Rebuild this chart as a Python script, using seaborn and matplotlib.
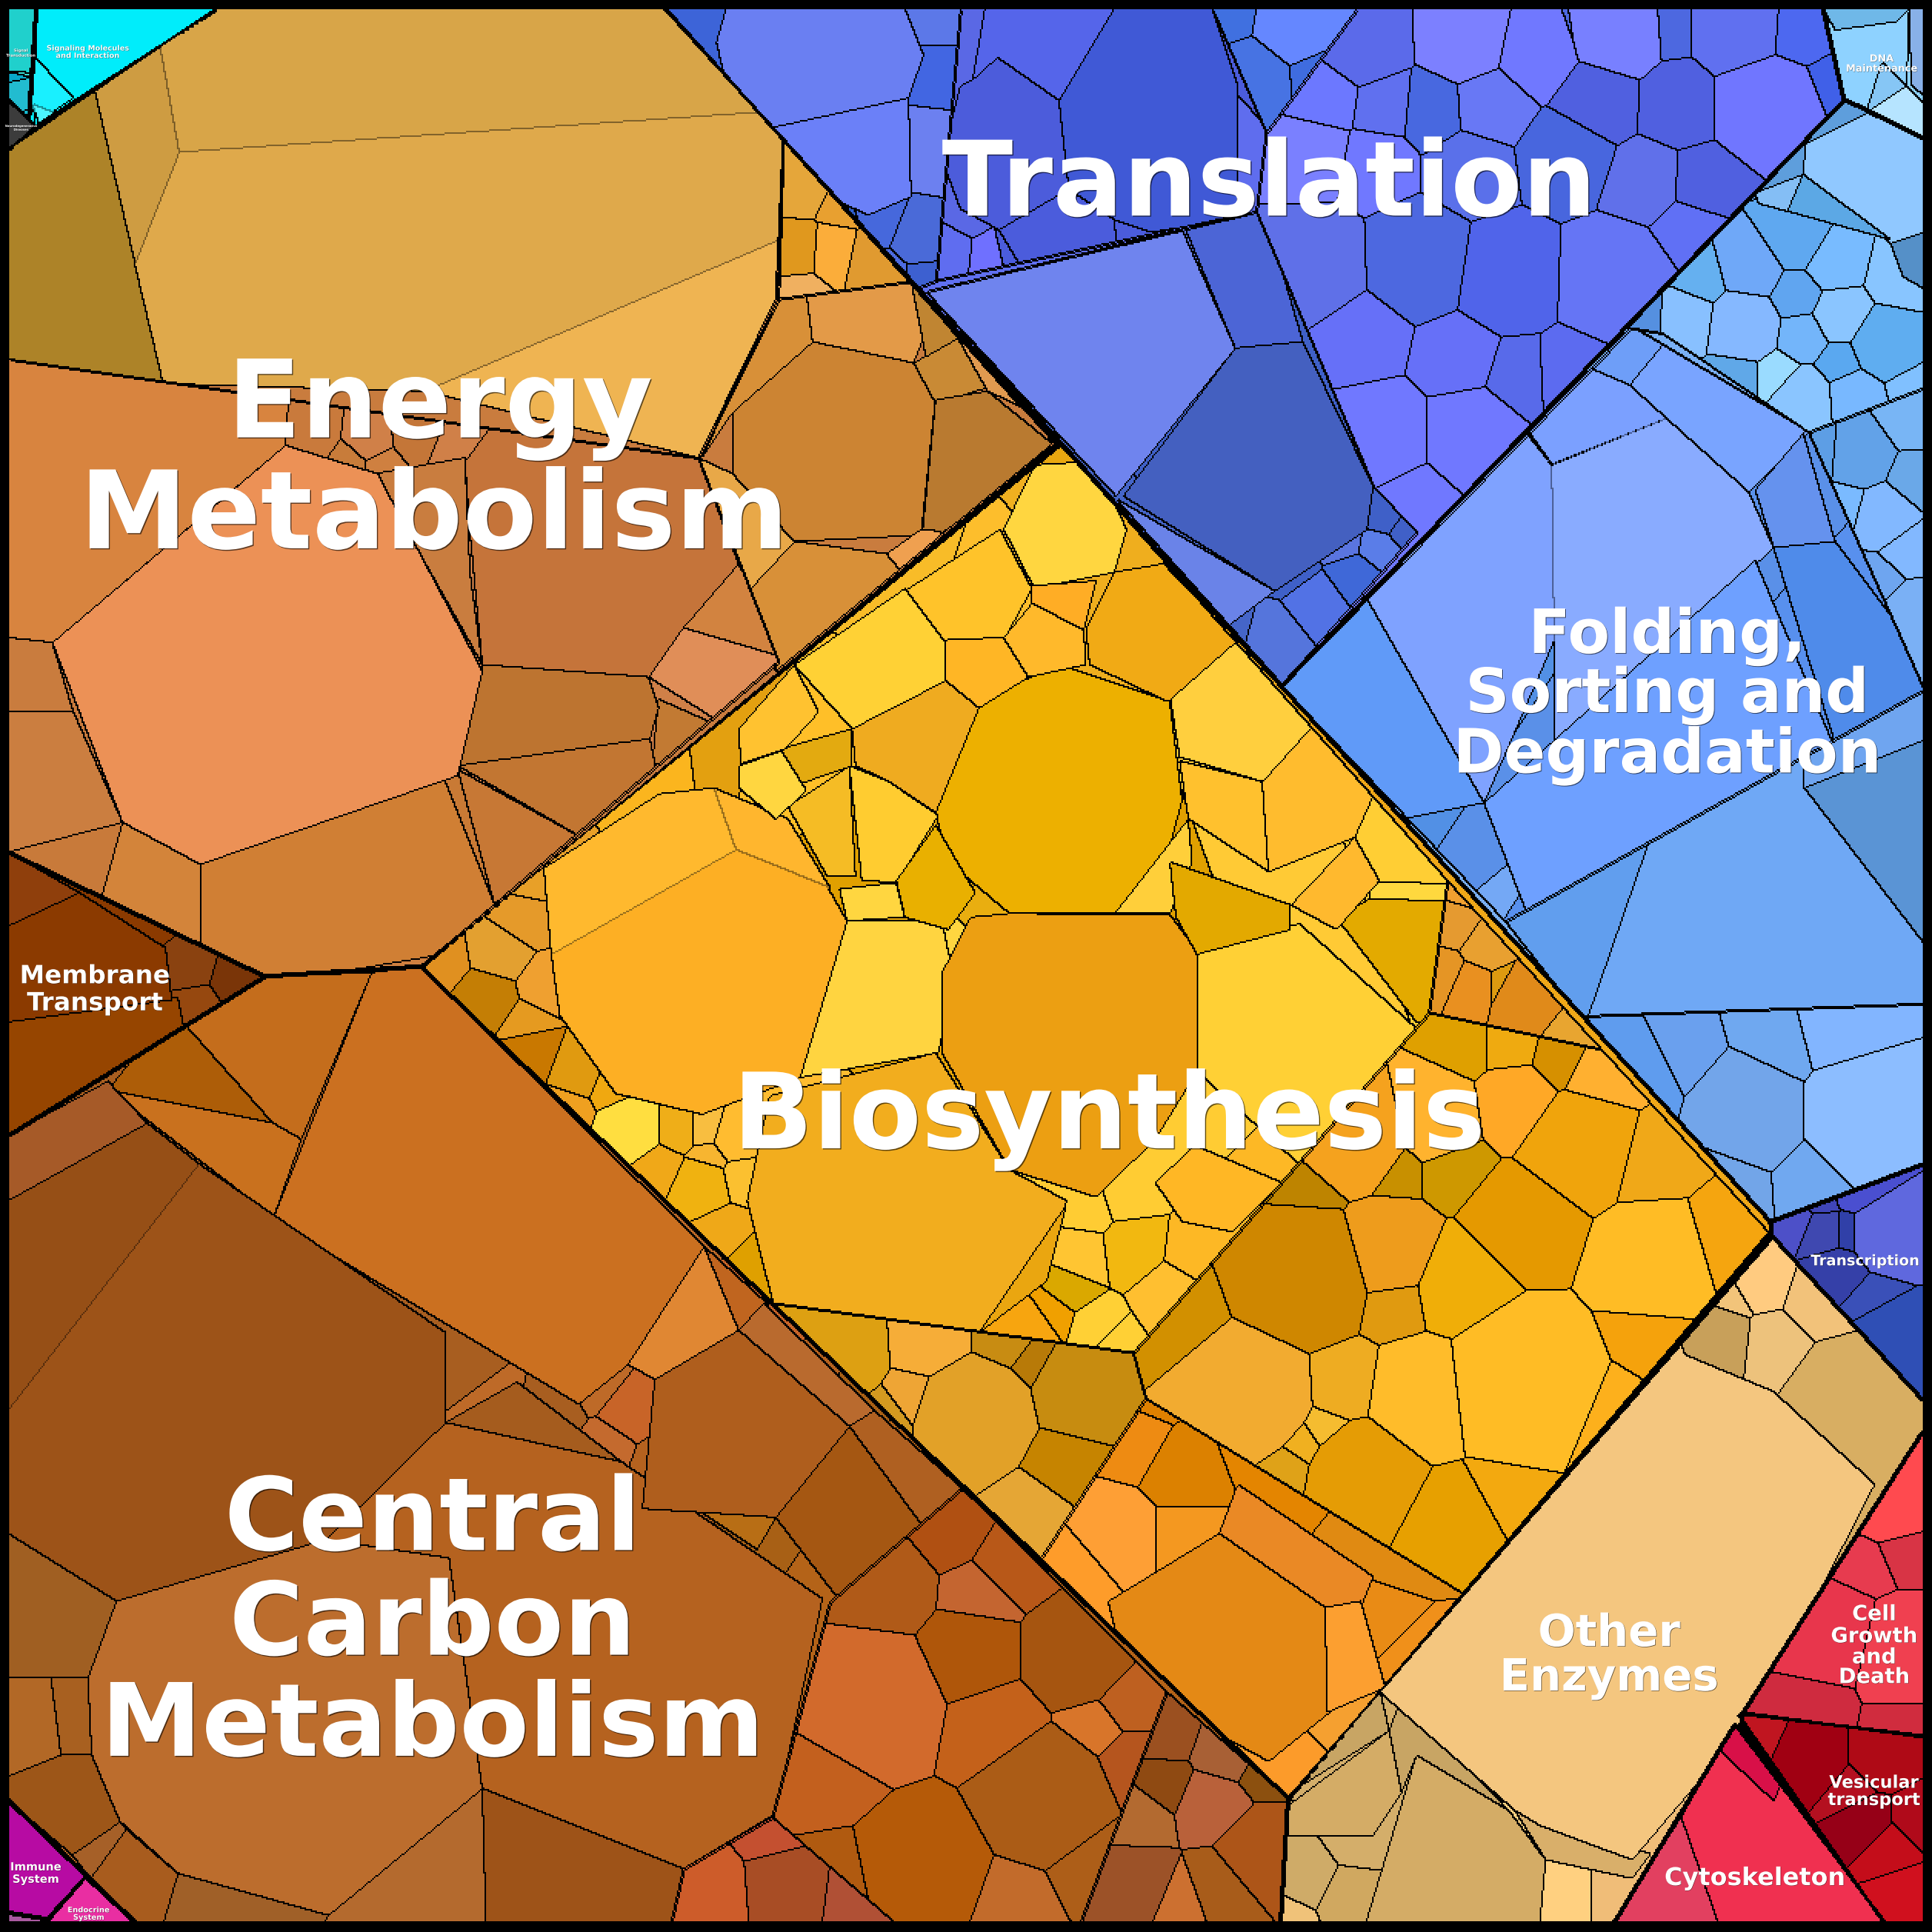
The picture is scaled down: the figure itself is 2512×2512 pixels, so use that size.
import numpy as np
import matplotlib
matplotlib.use("Agg")
import matplotlib.pyplot as plt
import matplotlib.patheffects as pe
from matplotlib.colors import ListedColormap, to_rgb
from matplotlib.path import Path
import seaborn as sns

sns.set_theme(style="white")
plt.rcParams["font.family"] = ["DejaVu Sans"]

# coordinates below are read off the picture, on a 1568 wide canvas
# sites are (x, y, r, colour), cells are (colour, outline) with optional family

energy_outline = [(7, 122), (177, 7), (540, 7), (855, 360), (342, 785), (215, 793), (7, 692)]
gold_outline = [(7, 100), (177, 7), (540, 7), (636, 112), (630, 243), (567, 372), (7, 292)]
gold_cells = [
    ("#AD8328", [(7, 122), (77, 72), (133, 312), (7, 292)]),
    ("#CE9C42", [(77, 72), (130, 35), (146, 124), (110, 215), (133, 312)], 1),
    ("#D8A548", [(130, 35), (177, 7), (540, 7), (640, 112), (146, 124)], 1),
    ("#DFA94B", [(146, 124), (640, 90), (640, 195), (345, 318), (133, 312), (110, 215)], 1),
    ("#EFB452", [(345, 318), (640, 192), (640, 243), (567, 372)], 1),
]
tiny_gold_outline = [(636, 112), (745, 228), (632, 243)]
tiny_gold_sites = [
    (650, 150, 22, "#E5A63A"), (647, 203, 18, "#E0981E"), (675, 205, 16, "#FBAD3A"),
    (708, 212, 16, "#E09A30"), (682, 165, 12, "#E8A030"), (650, 236, 8, "#F0B060"),
]
brown_outline = [(632, 243), (745, 228), (855, 360), (630, 545), (567, 372)]
brown_cells = [
    ("#D89038", [(570, 372), (632, 243), (655, 238), (660, 278), (595, 335)]),
    ("#E39A48", [(655, 238), (740, 228), (752, 270), (742, 295), (660, 278)]),
    ("#CC8433", [(595, 335), (660, 278), (742, 295), (760, 322), (748, 435), (645, 440), (595, 385)]),
    ("#C98A35", [(742, 295), (778, 275), (802, 315), (760, 328)]),
    ("#C08532", [(740, 228), (778, 275), (752, 290)]),
    ("#E09A50", [(778, 275), (860, 345), (802, 318)]),
    ("#B97A30", [(760, 325), (802, 318), (860, 365), (748, 445)]),
    ("#D89038", [(608, 480), (645, 440), (720, 450), (735, 468), (630, 550)]),
    ("#EFA050", [(720, 450), (748, 430), (765, 432), (735, 468)]),
    ("#E8A848", [(567, 372), (595, 385), (645, 440), (608, 480)]),
]
orange_outline = [(7, 292), (567, 372), (632, 537), (342, 785), (215, 793), (7, 692)]
orange_sites = [
    (255, 350, 18, "#C97A3C"), (300, 355, 18, "#D08048"), (338, 352, 18, "#C47638"),
    (285, 372, 10, "#C87C3A"), (310, 375, 10, "#CF8040"), (370, 365, 16, "#D08048"),
]
orange_cells = [
    ("#D8843F", [(7, 285), (235, 322), (232, 362), (43, 522), (7, 518)]),
    ("#C97C3E", [(7, 518), (43, 522), (60, 578), (7, 578)]),
    ("#CB7E40", [(7, 578), (60, 578), (100, 668), (7, 698)]),
    ("#C87A3A", [(7, 692), (100, 668), (82, 732)]),
    ("#D3843A", [(100, 668), (163, 702), (163, 768), (82, 732)]),
    ("#C5743A", [(378, 375), (400, 345), (567, 372), (600, 458), (527, 550), (392, 540), (382, 432)]),
    ("#C97D3F", [(305, 385), (378, 372), (382, 465), (392, 540)]),
    ("#D28340", [(555, 510), (600, 458), (640, 535)]),
    ("#E08E58", [(527, 550), (555, 510), (640, 535), (590, 590)]),
    ("#C27A33", [(535, 568), (585, 590), (548, 622), (530, 620)]),
    ("#BD7430", [(392, 540), (527, 550), (535, 575), (528, 600), (372, 622)]),
    ("#C27632", [(372, 622), (528, 600), (533, 625), (472, 680)]),
    ("#C77835", [(372, 625), (472, 680), (402, 735)]),
    ("#C97A35", [(360, 630), (372, 625), (402, 735)]),
    ("#D07F34", [(163, 702), (360, 630), (402, 735), (360, 775), (215, 800), (163, 768)]),
    ("#EC9156", [(43, 522), (140, 440), (232, 362), (307, 385), (392, 545), (372, 630), (163, 702), (100, 668)]),
]

membrane_outline = [(7, 692), (215, 793), (7, 922)]
membrane_sites = [
    (155, 785, 14, "#8A4210"), (190, 795, 12, "#7A3508"), (160, 815, 10, "#96480F"), (120, 745, 10, "#8B3A00"),
]
membrane_cells = [
    ("#964500", [(7, 830), (145, 810), (150, 835), (7, 925)]),
    ("#8B3A00", [(7, 752), (65, 725), (135, 770), (140, 812), (7, 830)]),
    ("#8F3F0C", [(7, 692), (65, 725), (7, 752)]),
]

central_outline = [(7, 922), (215, 793), (342, 785), (1046, 1460), (1040, 1561), (112, 1561), (7, 1460)]
central_cells = [
    ("#C46D1C", [(88, 860), (215, 793), (302, 790), (245, 925), (222, 912)]),
    ("#AD5D08", [(88, 885), (140, 820), (222, 912)]),
    ("#C9711E", [(88, 885), (222, 912), (245, 925), (222, 990), (205, 975)]),
    ("#CB7020", [(222, 990), (302, 790), (342, 785), (572, 1012), (510, 1108), (470, 1140)]),
    ("#A65A28", [(7, 922), (88, 878), (120, 912), (7, 975)]),
    ("#964F16", [(7, 975), (120, 912), (162, 945), (7, 1145)], 2),
    ("#9D5318", [(162, 945), (362, 1082), (362, 1155), (265, 1250), (95, 1300), (7, 1245), (7, 1145)], 2),
    ("#A05F22", [(7, 1245), (95, 1300), (72, 1362), (7, 1362)]),
    ("#B26826", [(7, 1362), (42, 1362), (50, 1425), (7, 1442)]),
    ("#A86020", [(42, 1362), (72, 1362), (75, 1425), (50, 1425)]),
    ("#9D5618", [(7, 1442), (50, 1425), (75, 1425), (98, 1479), (59, 1506), (7, 1462)]),
    ("#A66028", [(98, 1479), (103, 1485), (74, 1525), (59, 1506)]),
    ("#A85C1E", [(103, 1485), (145, 1521), (133, 1562), (112, 1562), (74, 1525)]),
    ("#A06028", [(145, 1521), (267, 1555), (262, 1562), (133, 1562)]),
    ("#B5621F", [(265, 1250), (362, 1155), (505, 1187), (668, 1298), (630, 1472), (555, 1517), (392, 1452), (365, 1265)]),
    ("#BC6D2D", [(72, 1362), (95, 1300), (265, 1250), (365, 1265), (392, 1452), (267, 1555), (145, 1521), (98, 1479), (75, 1425)]),
    ("#9E5318", [(392, 1452), (555, 1517), (550, 1562), (395, 1562)]),
    ("#B46A2E", [(267, 1555), (392, 1452), (395, 1562), (262, 1562)]),
    ("#A55C1E", [(362, 1155), (420, 1122), (505, 1187)]),
    ("#E08733", [(510, 1108), (572, 1012), (602, 1080), (532, 1120)]),
    ("#C0651F", [(572, 1012), (625, 1060), (600, 1080)]),
    ("#B96A2E", [(620, 1058), (710, 1145), (690, 1158), (600, 1080)]),
    ("#AF5E1D", [(532, 1120), (600, 1080), (690, 1158), (630, 1232), (522, 1225)]),
    ("#AF6021", [(690, 1158), (710, 1145), (781, 1208), (750, 1240)]),
    ("#A55712", [(630, 1232), (690, 1158), (750, 1240), (680, 1297)]),
    ("#B86E15", [(570, 1228), (630, 1232), (615, 1258)]),
]
central_sites = [
    (385, 1110, 14, "#A85E20"), (400, 1130, 9, "#BE6A28"), (450, 1140, 14, "#A85E20"),
    (480, 1122, 12, "#BE6A28"), (515, 1150, 18, "#C86428"), (498, 1175, 14, "#C46A2E"),
    (540, 1190, 25, "#B5621F"), (630, 1265, 12, "#A86015"), (652, 1280, 12, "#B46318"),
]
rust_outline = [(781, 1208), (947, 1373), (877, 1561), (727, 1561), (627, 1475), (674, 1300)]
rust_sites = [
    (771, 1242, 22, "#B05012"), (818, 1271, 20, "#B85818"), (795, 1294, 18, "#C46530"),
    (717, 1287, 35, "#B05A18"), (787, 1345, 34, "#AF560A"), (872, 1345, 36, "#A65510"),
    (704, 1384, 60, "#D26A2C"), (807, 1403, 34, "#C4611A"), (676, 1432, 36, "#C3601E"),
    (748, 1513, 50, "#B55A08"), (846, 1458, 52, "#AB5C16"), (888, 1403, 14, "#D8752A"),
    (913, 1384, 10, "#BE6020"), (913, 1429, 12, "#B5551E"), (691, 1525, 18, "#B05A10"),
    (820, 1539, 14, "#C26B2B"), (882, 1507, 16, "#AD5E18"),
]
red_brown_outline = [(627, 1475), (727, 1561), (545, 1561), (555, 1517)]
red_brown_sites = [
    (575, 1535, 20, "#CD5C2A"), (640, 1530, 24, "#A84D25"), (700, 1538, 20, "#B05035"), (630, 1490, 8, "#C45030"),
]
corner_outline = [(947, 1373), (1046, 1460), (1040, 1561), (877, 1561)]
corner_sites = [
    (947, 1403, 24, "#9B5020"), (996, 1420, 24, "#A86035"), (945, 1449, 18, "#8F4A12"),
    (983, 1465, 24, "#B9613A"), (926, 1474, 20, "#B36A30"), (1022, 1434, 14, "#8C500F"),
    (1022, 1503, 30, "#AD5518"), (924, 1529, 26, "#9C5228"), (955, 1542, 16, "#CC7030"),
    (991, 1529, 20, "#A85C1A"),
]

bio_outline = [(342, 785), (862, 362), (1440, 995), (1046, 1460)]
bio_main_outline = [(342, 785), (862, 362), (1175, 715), (1160, 822), (920, 1098), (628, 1058)]
bio_main_sites = [
    (405, 775, 20, "#E3A030"), (395, 810, 22, "#C47E05"), (425, 745, 18, "#E59A2A"), (362, 782, 14, "#E09020"),
    (440, 800, 14, "#EFA030"), (430, 720, 12, "#E8A028"), (425, 830, 12, "#E59A20"), (430, 855, 16, "#C97800"),
    (470, 870, 16, "#E09A10"), (460, 900, 10, "#EFA020"), (512, 918, 22, "#FFDE40"), (495, 880, 10, "#F0A810"),
    (550, 918, 12, "#EFAE18"), (572, 918, 8, "#F8BE40"), (575, 940, 8, "#F7B530"), (595, 925, 12, "#FFBC30"),
    (535, 950, 16, "#F0A818"), (568, 965, 22, "#F0B210"), (600, 958, 9, "#FBC030"), (585, 1002, 20, "#EFA818"),
    (603, 1020, 12, "#DFA000"), (895, 1080, 8, "#FFD035"), (880, 1020, 20, "#FFC532"), (920, 1015, 24, "#F2B810"),
    (870, 1045, 16, "#DAA800"), (890, 1075, 14, "#FFD035"), (855, 1065, 12, "#F0A000"), (845, 1072, 10, "#F7A50F"),
    (960, 1020, 10, "#FDB825"), (945, 1045, 18, "#FFBF30"), (915, 975, 14, "#FFCC33"), (885, 985, 14, "#FFCC33"),
    (770, 762, 7, "#FFD640"), (745, 775, 6, "#E7A608"), (800, 735, 18, "#E9AE10"), (680, 716, 8, "#E0A000"),
    (620, 640, 10, "#FFBF28"), (585, 625, 18, "#E3A010"), (545, 630, 12, "#FBB51E"), (770, 410, 16, "#F8BC28"),
    (800, 420, 10, "#FDBE2C"), (830, 395, 10, "#F0B020"), (850, 375, 8, "#E9A810"), (925, 445, 10, "#EFAE1E"),
    (1140, 670, 14, "#FFCE34"), (1045, 705, 14, "#FFCA35"), (935, 745, 10, "#E0A000"),
]
bio_main_cells = [
    ("#FFB92E", [(442, 705), (535, 645), (580, 640), (598, 690), (448, 775)], 3),
    ("#FFB62E", [(580, 640), (640, 665), (675, 722), (598, 690)], 3),
    ("#FDAF24", [(455, 825), (448, 775), (598, 690), (672, 720), (688, 748), (650, 875), (570, 905), (500, 888)], 3),
    ("#FFD440", [(688, 748), (765, 748), (775, 795), (762, 855), (650, 875)]),
    ("#FFD640", [(682, 722), (728, 717), (735, 745), (688, 748)]),
    ("#EDB000", [(760, 660), (788, 572), (860, 540), (950, 570), (960, 650), (935, 742), (820, 742), (770, 700)]),
    ("#FFCF3A", [(905, 742), (965, 665), (968, 700), (950, 742)]),
    ("#EC9F12", [(765, 790), (788, 745), (820, 742), (950, 743), (972, 772), (972, 870), (938, 925), (890, 972), (820, 950), (765, 855)]),
    ("#FFD035", [(972, 775), (1055, 750), (1150, 835), (1060, 950), (972, 870)]),
    ("#E3A900", [(950, 700), (1048, 735), (1048, 755), (972, 775), (955, 745)]),
    ("#E3AA00", [(1085, 745), (1112, 730), (1180, 732), (1165, 830), (1150, 830)]),
    ("#FFD83E", [(1112, 716), (1180, 718), (1180, 732), (1112, 730)]),
    ("#F2AD1E", [(607, 975), (625, 890), (760, 855), (820, 950), (866, 975), (850, 1040), (795, 1082), (628, 1058)]),
    ("#EAA610", [(795, 1082), (866, 978), (850, 1040)]),
    ("#FFB725", [(938, 960), (970, 930), (1040, 960), (1000, 1000), (960, 992)]),
    ("#FFCF3E", [(950, 565), (1000, 520), (1075, 580), (1025, 635), (958, 615)]),
    ("#FFC12E", [(958, 618), (1025, 635), (1030, 708), (965, 665)]),
    ("#FFBC2E", [(1025, 635), (1070, 585), (1120, 635), (1100, 680), (1030, 708)]),
    ("#FFB92E", [(1048, 735), (1100, 680), (1120, 715), (1085, 755)]),
    ("#FFD640", [(815, 430), (840, 378), (888, 375), (915, 430), (905, 465), (840, 478)]),
    ("#FFC32A", [(735, 480), (812, 430), (838, 478), (815, 520), (768, 522)]),
    ("#FFD135", [(645, 540), (735, 478), (768, 522), (768, 553), (692, 592)]),
    ("#F1AA15", [(882, 510), (905, 465), (945, 458), (1005, 520), (948, 570), (885, 540)]),
    ("#FFB92B", [(815, 518), (838, 490), (880, 510), (882, 540), (835, 550)]),
    ("#FFAD25", [(838, 476), (890, 472), (880, 512), (838, 490)]),
    ("#FFB625", [(768, 520), (815, 518), (835, 550), (795, 575), (768, 553)]),
    ("#EFAB20", [(692, 592), (768, 553), (795, 575), (760, 660), (722, 635), (695, 622)]),
    ("#FFCC30", [(690, 622), (722, 635), (762, 662), (728, 717), (700, 715)]),
    ("#F5BC25", [(640, 655), (690, 622), (695, 712), (672, 712)]),
    ("#E3AA10", [(635, 608), (692, 592), (692, 622), (640, 640)]),
    ("#FFD640", [(600, 622), (635, 610), (655, 642), (630, 665), (600, 640)]),
    ("#FFC230", [(600, 592), (645, 540), (665, 578), (638, 608), (602, 620)]),
    ("#E9B000", [(728, 715), (760, 670), (792, 725), (770, 755), (735, 745)]),
]
bio_edge_outline = [(1175, 715), (1300, 852), (1160, 822)]
bio_edge_sites = [
    (1182, 750, 14, "#E59A30"), (1208, 768, 16, "#E8A030"), (1195, 800, 14, "#E99020"), (1172, 790, 12, "#E59525"),
    (1240, 810, 24, "#E08A1A"), (1275, 838, 10, "#E8A530"), (1222, 800, 8, "#DD9A10"), (1190, 725, 8, "#F0A030"),
]
bio_low_outline = [(628, 1058), (920, 1098), (930, 1135), (845, 1265), (555, 990)]
bio_low_sites = [
    (680, 1095, 38, "#DDA012"), (755, 1090, 28, "#F6AD38"), (745, 1135, 20, "#EEA535"),
    (790, 1150, 48, "#E2A128"), (880, 1130, 38, "#C78C10"), (865, 1190, 26, "#C68400"),
    (815, 1090, 18, "#C88C12"), (840, 1225, 24, "#E5A635"), (725, 1150, 14, "#D49A20"),
    (835, 1105, 10, "#B87A08"),
]
bio_orange_outline = [(930, 1135), (1190, 1295), (1046, 1460), (845, 1265)]
bio_orange_sites = [
    (905, 1245, 30, "#FE9F35"), (870, 1275, 26, "#FE9C2A"), (960, 1190, 28, "#DC8100"),
    (925, 1170, 24, "#EE8B12"), (1012, 1170, 14, "#E48500"), (960, 1245, 14, "#F49820"),
    (1140, 1310, 16, "#E98B15"), (1155, 1325, 16, "#F0901A"), (1050, 1440, 24, "#FC9B2A"),
    (1090, 1400, 8, "#F5A030"), (935, 1145, 10, "#E08000"), (1150, 1280, 12, "#E08A12"),
]
bio_orange_cells = [
    ("#EA8925", [(990, 1245), (1005, 1205), (1115, 1280), (1105, 1305), (1076, 1305)]),
    ("#E48915", [(900, 1300), (990, 1245), (1076, 1305), (1080, 1390), (1030, 1430), (975, 1400), (910, 1340)]),
    ("#FC9F30", [(1076, 1305), (1105, 1300), (1125, 1370), (1078, 1390)]),
]
bio_right_outline = [(920, 1098), (1160, 822), (1300, 852), (1440, 1005), (1190, 1295), (930, 1135)]
bio_right_sites = [
    (1280, 930, 40, "#F0A40C"), (1235, 990, 36, "#E59900"), (1345, 1025, 42, "#FFBC25"),
    (1395, 1010, 20, "#F5A50F"), (1230, 895, 28, "#FFA826"), (1165, 905, 34, "#FFB32E"),
    (1125, 1015, 36, "#EE9C1C"), (1055, 1035, 56, "#CF8700"), (1095, 920, 46, "#F5A21E"),
    (1185, 1040, 30, "#F0AE08"), (1240, 1125, 62, "#FFBC25"), (1300, 1150, 30, "#FDB01C"),
    (1155, 1135, 38, "#FFBC2A"), (1105, 1200, 42, "#E59C05"), (1010, 1130, 52, "#F2AB30"),
    (960, 1070, 24, "#D29000"), (1180, 1240, 32, "#E7A000"), (1225, 1215, 16, "#F3A90F"),
    (1090, 1125, 18, "#EEAC22"), (1060, 1175, 10, "#F0B020"), (1130, 1050, 16, "#E09A10"),
    (1190, 850, 16, "#DFA000"), (1225, 850, 16, "#EFAA10"), (1265, 860, 12, "#D69000"),
    (1295, 875, 14, "#FFB030"), (1340, 945, 10, "#F0A818"), (1340, 1085, 12, "#F5A20C"),
    (1130, 945, 12, "#C89000"), (1060, 960, 22, "#BE8400"), (1180, 945, 12, "#CE9800"),
    (1215, 1140, 12, "#C08000"), (1075, 1165, 8, "#F5BC30"), (1050, 1190, 8, "#DFA218"),
]

translation_outline = [(540, 7), (1480, 7), (1497, 81), (1040, 557)]
trans_low_outline = [(752, 237), (1020, 172), (1115, 395), (1150, 432), (1040, 557)]
trans_low_sites = [
    (1035, 520, 22, "#5575DC"), (1070, 492, 20, "#5272E5"), (1100, 470, 16, "#3F68D8"),
    (1120, 445, 12, "#5A7DE8"), (1135, 432, 6, "#4060C8"), (1005, 512, 8, "#4565C8"),
    (1050, 465, 8, "#3F60C8"), (1090, 440, 10, "#5A75E0"), (1125, 425, 8, "#3F60C8"),
]
trans_low_cells = [
    ("#6F84EE", [(752, 237), (960, 187), (1003, 283), (906, 403)]),
    ("#4C65D6", [(960, 180), (1025, 165), (1058, 278), (1003, 283)]),
    ("#4460C0", [(1003, 283), (1058, 278), (1115, 395), (1110, 430), (1035, 480), (912, 403)]),
    ("#6A83E8", [(906, 405), (1035, 480), (995, 510), (1042, 557)]),
]
trans_left_outline = [(540, 7), (780, 7), (760, 228), (735, 238)]
trans_left_sites = [
    (560, 14, 14, "#3D64D8"), (765, 20, 10, "#5C78E8"), (765, 60, 18, "#4266E2"),
    (758, 120, 22, "#6C80F0"), (745, 195, 18, "#4A6AD8"), (712, 182, 16, "#4668DC"),
    (690, 190, 14, "#2F5FCF"), (720, 222, 14, "#4D6BE0"), (748, 224, 8, "#3D60D0"),
]
trans_left_cells = [
    ("#6A7FF2", [(582, 35), (590, 7), (735, 7), (750, 45), (738, 80), (600, 110)]),
    ("#6B80F8", [(600, 110), (738, 80), (740, 160), (705, 175), (672, 160)]),
]
trans_mid_outline = [(780, 7), (984, 7), (1028, 108), (1020, 172), (760, 228)]
trans_mid_sites = [
    (772, 205, 18, "#5F6DF0"), (800, 208, 14, "#6F70FF"), (785, 180, 10, "#5A68E5"),
    (910, 195, 8, "#4B5CDC"), (835, 200, 24, "#4B5CDC"),
]
trans_mid_cells = [
    ("#5F6DEE", [(1000, 72), (1030, 105), (1020, 172), (1000, 180)]),
    ("#4059D6", [(860, 82), (905, 7), (984, 7), (1005, 70), (1005, 178), (934, 189), (905, 179), (868, 154)]),
    ("#5565EA", [(800, 7), (905, 7), (860, 82), (810, 47), (790, 65)]),
    ("#4C5CDB", [(780, 70), (790, 65), (810, 47), (860, 82), (868, 154), (811, 187), (780, 170), (765, 130)]),
    ("#4B5CDC", [(811, 187), (868, 154), (905, 179), (907, 203), (830, 218)]),
]
trans_top_outline = [(984, 7), (1102, 7), (1028, 108)]
trans_top_sites = [
    (1050, 22, 28, "#6587FF"), (1018, 62, 26, "#4773E3"), (1065, 58, 10, "#3F6CDF"), (1002, 14, 8, "#4070E0"),
]
trans_comb_outline = [(1102, 7), (1480, 7), (1497, 81), (1040, 557), (1150, 432), (1115, 395), (1020, 172), (1028, 108)]
trans_comb_x = [1104, 1190, 1073, 1122, 1164, 1211, 1248, 1313, 1297, 1362, 1433, 1412, 1355, 1271, 1062, 1114,
                1195, 1336, 1381, 1065, 1151, 1224, 1310, 1104, 1182, 1232, 1276, 1120, 1193, 1146, 1370, 1454, 1475, 1281]
trans_comb_y = [36, 33, 78, 85, 89, 86, 45, 28, 81, 84, 84, 25, 25, 127, 125, 134,
                137, 148, 150, 215, 212, 223, 226, 273, 290, 306, 304, 354, 354, 407, 184, 28, 67, 33]
trans_comb_colour = ["#5B6AEA", "#7C80FF", "#6C78FF", "#6070EF", "#4868E0", "#6878F5", "#7078FF", "#7880FF", "#5060E0",
                     "#5060E0", "#7076FF", "#6070F0", "#4D68E0", "#4866DE", "#7A80FF", "#7078FF", "#5A70EA", "#6070EA",
                     "#5060E0", "#5F70E8", "#4D68E0", "#5064EA", "#6575F5", "#6670F8", "#6670F8", "#586AEA", "#5C6BF0",
                     "#7078FF", "#7078FF", "#7078FF", "#6070F5", "#4D68F0", "#4060E8", "#4D68E0"]
trans_comb_size = [40, 38, 36, 30, 30, 34, 36, 40, 36, 34, 44, 40, 22, 38, 38, 32,
                   34, 32, 28, 48, 46, 44, 46, 36, 30, 22, 26, 42, 38, 30, 26, 28, 12, 18]

folding_outline = [(1040, 557), (1497, 81), (1562, 113), (1562, 945), (1440, 995)]
fold_big_outline = [(1040, 557), (1325, 265), (1468, 350), (1562, 560), (1222, 748)]
fold_big_sites = [(1190, 695, 30, "#5A90E8"), (1215, 725, 18, "#74A8F5"), (1160, 675, 24, "#5290E5"), (1235, 738, 10, "#5890EE")]
fold_big_cells = [
    ("#609AF8", [(1040, 557), (1113, 478), (1205, 652), (1140, 665)]),
    ("#7FA2FF", [(1105, 478), (1234, 345), (1260, 378), (1262, 520), (1205, 652)], 4),
    ("#89ABFF", [(1260, 378), (1353, 340), (1420, 400), (1440, 445), (1262, 605), (1262, 520)], 4),
    ("#6EA0FF", [(1205, 652), (1425, 455), (1495, 620), (1243, 750)]),
    ("#7BA0FF", [(1237, 345), (1281, 295), (1323, 313), (1353, 340), (1260, 377)], 4),
    ("#79A4FF", [(1323, 313), (1353, 340), (1420, 400), (1470, 350), (1355, 274)]),
    ("#6592EE", [(1464, 352), (1425, 398), (1440, 445), (1490, 440)]),
    ("#4F8BEA", [(1440, 445), (1490, 440), (1565, 540), (1565, 570), (1495, 620)]),
    ("#6E9EF8", [(1281, 295), (1325, 255), (1355, 274), (1323, 313)]),
]
fold_comb_outline = [(1320, 266), (1497, 81), (1562, 113), (1562, 315), (1468, 351), (1350, 271)]
fold_comb_x = [1459, 1490, 1422, 1459, 1381, 1495, 1415, 1370, 1464, 1532, 1495, 1443, 1464, 1506, 1409, 1542, 1548, 1340, 1440]
fold_comb_y = [195, 214, 220, 240, 231, 256, 265, 259, 273, 279, 295, 304, 323, 320, 304, 226, 309, 258, 120]
fold_comb_colour = ["#5FA8F0", "#78BBFF", "#6FA8F8", "#60A5F0", "#65B0F0", "#8AC5FF", "#85B8FF", "#88C0FF", "#73B5FA",
                    "#5FADF0", "#5AA8F0", "#9ADBFF", "#8AC5FF", "#78B8FF", "#60A8E8", "#88C5FF", "#80C0FF", "#5590E0", "#5E9EDC"]
fold_comb_size = [24, 24, 24, 20, 18, 24, 30, 24, 20, 30, 18, 16, 24, 22, 18, 24, 14, 14, 20]
fold_comb_cells = [
    ("#90C8FF", [(1516, 92), (1562, 113), (1562, 189), (1535, 198), (1464, 142), (1466, 117)]),
    ("#5CA8E5", [(1464, 142), (1535, 195), (1451, 172)]),
    ("#84BEF5", [(1428, 166), (1425, 157), (1464, 142), (1451, 172)]),
    ("#5590C8", [(1535, 198), (1562, 189), (1562, 235), (1545, 225)]),
]
fold_right_outline = [(1468, 351), (1562, 315), (1562, 560)]
fold_right_sites = [
    (1510, 370, 24, "#62A2E8"), (1552, 340, 20, "#78B5F5"), (1486, 368, 12, "#5D9EE5"), (1530, 420, 24, "#82B8FF"),
    (1555, 390, 18, "#6AA8E8"), (1548, 445, 18, "#82B8FF"), (1500, 412, 14, "#7ABAFF"), (1555, 500, 24, "#7AB0F5"),
    (1525, 470, 14, "#6EA5F0"),
]
fold_low_outline = [(1222, 748), (1562, 560), (1562, 815), (1286, 830)]
fold_low_cells = [
    ("#619EEE", [(1215, 745), (1340, 680), (1286, 835)]),
    ("#6FA8F5", [(1340, 680), (1465, 610), (1565, 770), (1565, 820), (1465, 860), (1360, 885), (1286, 835)]),
    ("#5A94D5", [(1465, 640), (1565, 600), (1565, 770)]),
    ("#6FA5F0", [(1465, 610), (1565, 550), (1565, 600), (1465, 640)]),
]
fold_bot_outline = [(1286, 825), (1562, 815), (1562, 945), (1440, 995)]
fold_bot_sites = [
    (1415, 905, 46, "#72A5EA"), (1515, 905, 46, "#8CBDFF"), (1395, 960, 36, "#72A5E8"), (1345, 885, 14, "#5F9CEE"),
    (1495, 838, 22, "#82B5FF"), (1440, 852, 16, "#6FA8F0"), (1375, 870, 12, "#6AA0EE"), (1465, 955, 10, "#70A8F0"),
]

dna_outline = [(1480, 7), (1562, 7), (1562, 113), (1497, 81)]
dna_cells = [
    ("#8ED2FF", [(1480, 7), (1550, 7), (1548, 70), (1515, 92), (1497, 81)]),
    ("#6FB8E8", [(1480, 7), (1550, 7), (1540, 18), (1490, 25)]),
    ("#B6E4FF", [(1515, 92), (1548, 70), (1562, 85), (1562, 113)]),
    ("#86C6F5", [(1528, 50), (1548, 70), (1515, 92)]),
    ("#88B0E8", [(1550, 7), (1562, 7), (1562, 78), (1552, 70)]),
]

transcription_outline = [(1437, 992), (1562, 945), (1562, 1138), (1440, 1005)]
transcription_sites = [
    (1535, 1000, 30, "#5F68DE"), (1510, 960, 22, "#4A4FD0"), (1540, 1100, 44, "#2F4FB5"), (1480, 1000, 14, "#3F48B0"),
    (1455, 990, 14, "#4D50C8"), (1490, 1035, 18, "#3540A8"), (1518, 1060, 16, "#3A50B8"), (1500, 1000, 8, "#3040A8"),
    (1478, 975, 8, "#4045B8"),
]

other_outline = [(1046, 1460), (1440, 1005), (1562, 1138), (1562, 1160), (1310, 1561), (1040, 1561)]
other_sites = [
    (1395, 1090, 30, "#C8A05A"), (1440, 1095, 28, "#EDC27C"), (1430, 1045, 18, "#FFCB80"),
    (1495, 1135, 46, "#D8AE62"), (1475, 1060, 22, "#F2C27A"), (1405, 1060, 14, "#F2C47A"),
    (1275, 1530, 24, "#FFD080"), (1315, 1530, 28, "#F0BD78"), (1060, 1520, 24, "#CFAB68"),
    (1045, 1552, 10, "#F0C279"), (1090, 1535, 16, "#D0A860"), (1095, 1495, 16, "#D4AE6A"),
]
other_cells = [
    ("#C8A564", [(1040, 1460), (1120, 1370), (1128, 1405)]),
    ("#D4AC66", [(1040, 1470), (1128, 1405), (1138, 1455), (1115, 1490), (1040, 1490)]),
    ("#D4AC66", [(1110, 1558), (1150, 1425), (1225, 1470), (1255, 1510), (1250, 1565), (1105, 1565)]),
    ("#C8A564", [(1128, 1405), (1138, 1378), (1225, 1470), (1150, 1425), (1138, 1455)]),
    ("#D9AF6A", [(1230, 1470), (1255, 1480), (1340, 1505), (1325, 1525), (1255, 1510)]),
    ("#F4C67F", [(1125, 1378), (1105, 1360), (1360, 1075), (1368, 1100), (1440, 1130), (1522, 1205), (1427, 1390),
                 (1325, 1510), (1250, 1482), (1230, 1470)], 5),
]

growth_outline = [(1562, 1160), (1562, 1410), (1415, 1390)]
growth_sites = [
    (1535, 1210, 42, "#FF4A4F"), (1510, 1265, 14, "#E73B4F"), (1545, 1345, 40, "#F04050"), (1480, 1330, 42, "#E8364C"),
    (1470, 1380, 28, "#CF2B3F"), (1545, 1250, 16, "#D83445"), (1545, 1395, 18, "#D02C3E"),
]
vesicle_outline = [(1412, 1392), (1562, 1410), (1562, 1561), (1530, 1561)]
vesicle_sites = [
    (1470, 1425, 28, "#A00012"), (1432, 1408, 14, "#C01520"), (1525, 1425, 20, "#AF0A16"), (1535, 1500, 14, "#C40D1A"),
    (1515, 1480, 14, "#960017"), (1555, 1480, 12, "#B00A1A"), (1500, 1450, 10, "#B41020"), (1548, 1540, 18, "#D0101E"),
]
cyto_outline = [(1408, 1400), (1530, 1561), (1310, 1561)]
cyto_cells = [
    ("#E24060", [(1310, 1561), (1365, 1475), (1395, 1561)]),
    ("#F03050", [(1365, 1475), (1408, 1400), (1530, 1561), (1395, 1561)]),
    ("#D81048", [(1408, 1400), (1450, 1440), (1440, 1462), (1395, 1420)]),
]

signal_outline = [(7, 7), (30, 7), (24, 97), (7, 81)]
signal_sites = [
    (19, 30, 30, "#20D0CC"), (18, 52, 10, "#38D8CF"), (18, 78, 14, "#22BCD0"), (25, 88, 8, "#15B8CE"), (15, 65, 6, "#08A8C8"),
]
molecules_outline = [(30, 7), (177, 7), (29, 102), (24, 97)]
molecules_cells = [
    ("#00EDFB", [(30, 7), (177, 7), (29, 102)]),
    ("#19F0FF", [(29, 47), (60, 80), (37, 95), (26, 90)], 6),
    ("#4CF5FF", [(27, 85), (45, 92), (32, 100)], 6),
]
neuro_outline = [(7, 81), (28, 103), (7, 122)]
neuro_cells = [("#3C3C3C", [(7, 81), (28, 103), (7, 122)])]
immune_outline = [(7, 1463), (69, 1523), (37, 1558), (7, 1553)]
immune_cells = [("#B70BA3", [(7, 1463), (69, 1523), (37, 1558), (7, 1553)])]
endocrine_outline = [(70, 1525), (109, 1561), (39, 1561)]
endocrine_cells = [("#E92EA2", [(70, 1525), (109, 1561), (39, 1561)])]
small_outline = [(7, 1553), (37, 1558), (40, 1561), (7, 1561)]
small_cells = [("#A95AA0", [(7, 1553), (37, 1558), (40, 1561), (7, 1561)])]

label_text = ["Translation", "Energy", "Metabolism", "Biosynthesis", "Central", "Carbon", "Metabolism",
              "Folding,", "Sorting and", "Degradation", "Other", "Enzymes", "Membrane", "Transport",
              "Cell", "Growth", "and", "Death", "Cytoskeleton", "Vesicular", "transport", "Transcription",
              "DNA", "Maintenance", "Signaling Molecules", "and Interaction", "Signal", "Transduction",
              "Neurodegenerative", "Diseases", "Immune", "System", "Endocrine", "System"]
label_x = [1030, 357, 352, 900, 351, 351, 351, 1353, 1353, 1353, 1306, 1306, 77, 77,
           1521, 1521, 1521, 1521, 1424, 1521, 1521, 1514, 1527, 1527, 71, 71, 17, 17, 17, 17, 29, 29, 72, 72]
label_y = [175, 355, 445, 932, 1258, 1343, 1425, 530, 578, 627, 1336, 1372, 798, 820,
           1315, 1333, 1350, 1366, 1530, 1451, 1465, 1027, 50, 58, 41, 47, 42, 46, 103, 106, 1518, 1528, 1552, 1558]
label_size = [39, 40.5, 40.5, 39.4, 37.9, 37.9, 37.9, 22.9, 22.9, 22.9, 16.6, 16.6, 9.4, 9.4,
              7.9, 7.9, 7.9, 7.9, 9.2, 6.5, 6.5, 5.5, 3.7, 3.7, 2.75, 2.75, 1.5, 1.5, 1.1, 1.1, 4.2, 4.2, 2.8, 2.8]

regions = [
    (energy_outline, "#C97C3E", [(gold_outline, [], gold_cells), (tiny_gold_outline, tiny_gold_sites, []),
                                 (brown_outline, [], brown_cells), (orange_outline, orange_sites, orange_cells)]),
    (membrane_outline, "#8B3A00", [(membrane_outline, membrane_sites, membrane_cells)]),
    (central_outline, "#AF5E1D", [(central_outline, central_sites, central_cells), (rust_outline, rust_sites, []),
                                  (red_brown_outline, red_brown_sites, []), (corner_outline, corner_sites, [])]),
    (bio_outline, "#F0A818", [(bio_main_outline, bio_main_sites, bio_main_cells), (bio_edge_outline, bio_edge_sites, []),
                              (bio_low_outline, bio_low_sites, []),
                              (bio_orange_outline, bio_orange_sites, bio_orange_cells), (bio_right_outline, bio_right_sites, [])]),
    (translation_outline, "#6070F0", [
        (trans_comb_outline, list(zip(trans_comb_x, trans_comb_y, trans_comb_size, trans_comb_colour)), []),
        (trans_low_outline, trans_low_sites, trans_low_cells), (trans_left_outline, trans_left_sites, trans_left_cells),
        (trans_mid_outline, trans_mid_sites, trans_mid_cells), (trans_top_outline, trans_top_sites, [])]),
    (folding_outline, "#7AB0F5", [
        (fold_big_outline, fold_big_sites, fold_big_cells),
        (fold_comb_outline, list(zip(fold_comb_x, fold_comb_y, fold_comb_size, fold_comb_colour)), fold_comb_cells),
        (fold_right_outline, fold_right_sites, []), (fold_low_outline, [], fold_low_cells), (fold_bot_outline, fold_bot_sites, [])]),
    (dna_outline, "#8ED2FF", [(dna_outline, [], dna_cells)]),
    (transcription_outline, "#3F48B0", [(transcription_outline, transcription_sites, [])]),
    (other_outline, "#EDC27C", [(other_outline, other_sites, other_cells)]),
    (growth_outline, "#E8364C", [(growth_outline, growth_sites, [])]),
    (vesicle_outline, "#A00012", [(vesicle_outline, vesicle_sites, [])]),
    (cyto_outline, "#F03050", [(cyto_outline, [], cyto_cells)]),
    (signal_outline, "#20D0CC", [(signal_outline, signal_sites, [])]),
    (molecules_outline, "#00EDFB", [(molecules_outline, [], molecules_cells)]),
    (neuro_outline, "#3C3C3C", [(neuro_outline, [], neuro_cells)]),
    (immune_outline, "#B70BA3", [(immune_outline, [], immune_cells)]),
    (endocrine_outline, "#E92EA2", [(endocrine_outline, [], endocrine_cells)]),
    (small_outline, "#A95AA0", [(small_outline, [], small_cells)]),
]

N = 1256
scale = N / 1568
centres = (np.arange(N) + 0.5) / scale
xx, yy = np.meshgrid(centres, centres)
points = np.column_stack([xx.ravel(), yy.ravel()])

cell_id = -np.ones(N * N, dtype=int)
cluster_id = -np.ones(N * N, dtype=int)
region_id = -np.ones(N * N, dtype=int)
colours = []
families = []


def inside(outline):
    return Path(outline).contains_points(points)


def new_cell(colour, fam=0):
    colours.append(colour)
    families.append(fam)
    return len(colours) - 1


next_cluster = 0
for r, (outline, base, clusters) in enumerate(regions):
    region_mask = inside(outline)
    region_id[region_mask] = r
    cell_id[region_mask] = new_cell(base)
    cluster_id[region_mask] = next_cluster
    next_cluster += 1
    for c_outline, sites, cells in clusters:
        mask = inside(c_outline) & region_mask
        cluster_id[mask] = next_cluster
        next_cluster += 1
        idx = np.flatnonzero(mask)
        if len(sites) > 0:
            sx = np.array([s[0] for s in sites], dtype=float)
            sy = np.array([s[1] for s in sites], dtype=float)
            sr = np.array([s[2] for s in sites], dtype=float)
            ids = np.array([new_cell(s[3]) for s in sites])
            d = (points[idx, 0, None] - sx) ** 2 + (points[idx, 1, None] - sy) ** 2 - sr ** 2
            cell_id[idx] = ids[d.argmin(axis=1)]
        for cell in cells:
            fam = cell[2] if len(cell) > 2 else 0
            cell_id[inside(cell[1]) & mask] = new_cell(cell[0], fam)

# everything outside the frame stays black
frame = (points[:, 0] > 7.5) & (points[:, 0] < 1560.5) & (points[:, 1] > 7.5) & (points[:, 1] < 1560.5)
region_id[~frame] = -1

cell_id = cell_id.reshape(N, N)
cluster_id = cluster_id.reshape(N, N)
region_id = region_id.reshape(N, N)
fam_arr = np.array(families)


def edges(a, both=False):
    e = np.zeros(a.shape, dtype=bool)
    h = a[:, :-1] != a[:, 1:]
    v = a[:-1, :] != a[1:, :]
    if both:
        h &= (a[:, :-1] >= 0) & (a[:, 1:] >= 0)
        v &= (a[:-1, :] >= 0) & (a[1:, :] >= 0)
    e[:, :-1] |= h
    e[:-1, :] |= v
    return e


def grow(m, n):
    for _ in range(n):
        g = m.copy()
        g[1:, :] |= m[:-1, :]
        g[:-1, :] |= m[1:, :]
        g[:, 1:] |= m[:, :-1]
        g[:, :-1] |= m[:, 1:]
        m = g
    return m


K = len(colours)
safe_cell = np.where(cell_id < 0, 0, cell_id)
cell_edges = edges(safe_cell)
same_fam = np.zeros(cell_edges.shape, dtype=bool)
f = fam_arr[safe_cell]
same_fam[:, :-1] |= (f[:, :-1] == f[:, 1:]) & (f[:, :-1] > 0) & (safe_cell[:, :-1] != safe_cell[:, 1:])
same_fam[:-1, :] |= (f[:-1, :] == f[1:, :]) & (f[:-1, :] > 0) & (safe_cell[:-1, :] != safe_cell[1:, :])

grid = safe_cell.copy()
grid[same_fam] = safe_cell[same_fam] + K
black = 2 * K
grid[cell_edges & ~same_fam] = black
cluster_edges = edges(cluster_id, both=True)
thicker = cluster_edges.copy()
thicker[1:, 1:] |= cluster_edges[:-1, :-1]
grid[thicker] = black
grid[grow(edges(region_id, both=True), 1)] = black
grid[region_id < 0] = black

dark = [tuple(0.6 * v for v in to_rgb(c)) for c in colours]
palette = ListedColormap(colours + dark + ["black"])

fig = plt.figure(figsize=(10.048, 10.048), dpi=250)
ax = fig.add_axes([0, 0, 1, 1])
sns.heatmap(grid, cmap=palette, vmin=-0.5, vmax=2 * K + 0.5, cbar=False,
            xticklabels=False, yticklabels=False, ax=ax, rasterized=True)

for t, x, y, s in zip(label_text, label_x, label_y, label_size):
    off = max(0.12, min(0.4, s * 0.012))
    ax.text(x * scale, y * scale, t, color="white", fontsize=s, fontweight="bold",
            ha="center", va="baseline",
            path_effects=[pe.withSimplePatchShadow(offset=(off, -off), shadow_rgbFace="black", alpha=0.6)])

fig.savefig("out.png", dpi=250)
